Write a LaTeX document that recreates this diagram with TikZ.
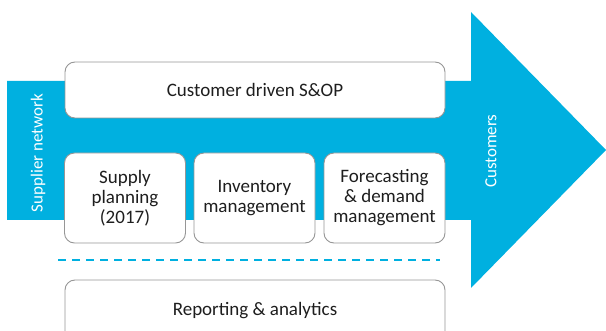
\documentclass[tikz,border=0pt]{standalone}
\usepackage{fontspec}
\setmainfont{Carlito}
\definecolor{flowblue}{RGB}{0,176,224}
\definecolor{boxline}{RGB}{150,150,150}
\definecolor{boxtext}{RGB}{30,30,30}
\begin{document}
\begin{tikzpicture}[x=1pt, y=-1pt,
    every node/.style={font=\fontsize{19}{20}\selectfont, text=boxtext},
    blk/.style={draw=boxline, line width=0.9pt, fill=white, rounded corners=10pt, align=center, inner sep=0pt},
    wide/.style={blk, minimum width=380pt, minimum height=56pt},
    small/.style={blk, minimum width=121pt, minimum height=90pt},
    side/.style={rotate=90, text=white, font=\fontsize{17}{20}\selectfont}]
            \useasboundingbox (0, 0) rectangle (606, 331);
            \clip (0, 0) rectangle (606, 331);

            % flow arrow
            \fill[flowblue] (7, 81) -- (471, 81) -- (471, 12) -- (606, 150)
                -- (471, 288) -- (471, 220) -- (7, 220) -- cycle;

            \node[side] (sup) at (38, 153) {Supplier network};
            \node[side] (cus) at (491, 151) {Customers};

            \node[wide] (sop) at (255, 90) {Customer driven S\&OP};
            \node[small] (spl) at (125, 198) {Supply\\planning\\(2017)};
            \node[small] (inv) at (254.5, 198) {Inventory\\management};
            \node[small] (fcd) at (384.5, 198) {Forecasting\\\& demand\\management};
            \node[wide, minimum height=62pt] (rep) at (255, 311) {Reporting \& analytics};

            \coordinate (dl) at (58, 260);
            \coordinate (dr) at (440, 260);
            \draw[flowblue, line width=1.6pt, dash pattern=on 8pt off 6pt] (dl) -- (dr);
        \end{tikzpicture}
\end{document}
